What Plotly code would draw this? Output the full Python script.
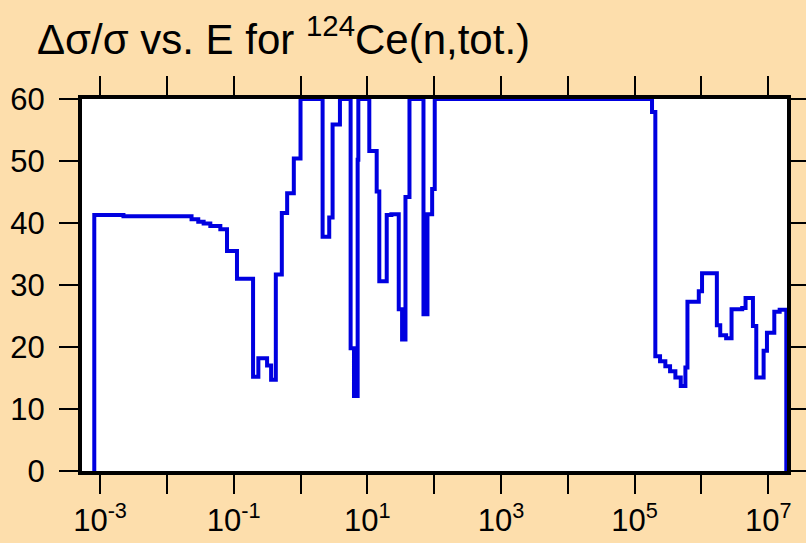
import plotly.graph_objects as go

# Energy bin edges (eV) and relative uncertainty (%)
energy = [8.2e-4, 8.2e-4, 2.24e-3, 0.0234, 0.0295, 0.0355, 0.0447, 0.0631, 0.0794,
          0.112, 0.195, 0.234, 0.316, 0.363, 0.427, 0.525, 0.631, 0.794, 1.0,
          2.14, 2.69, 3.02, 3.89, 5.62, 6.31, 7.16, 7.33, 10.7, 13.8, 15.1, 19.5,
          22.9, 29.5, 33.1, 37.2, 42.7, 69.2, 79.4, 93.3, 102.0,
          1.82e5, 2.04e5, 2.40e5, 2.88e5, 3.39e5, 4.07e5, 4.90e5, 5.75e5, 6.17e5,
          9.12e5, 1.02e6, 1.70e6, 1.91e6, 2.34e6, 2.82e6, 4.07e6, 4.57e6, 5.89e6,
          6.61e6, 8.51e6, 9.55e6, 1.23e7, 1.48e7, 1.86e7]
rel_unc = [0.0, 41.3, 41.1, 40.6, 40.2, 39.9, 39.5, 39.0, 35.5,
           31.0, 15.2, 18.2, 17.0, 14.7, 31.7, 41.6, 44.8, 50.4, 60.0,
           37.8, 40.9, 55.9, 60.0, 19.8, 12.1, 50.2, 60.0, 51.6, 45.1, 30.6, 41.3,
           41.4, 26.1, 21.2, 44.2, 60.0, 25.3, 41.4, 45.5, 60.0,
           57.9, 18.5, 17.7, 16.9, 16.1, 15.1, 13.7, 16.7, 27.3,
           29.0, 31.9, 23.5, 21.9, 21.4, 26.1, 26.3, 27.9, 23.4,
           15.1, 19.4, 22.3, 25.7, 26.0, 0.0]

x_tickvals = [1e-3, 1e-1, 1e1, 1e3, 1e5, 1e7]
x_ticktext = ["10<sup>-3</sup>", "10<sup>-1</sup>", "10<sup>1</sup>",
              "10<sup>3</sup>", "10<sup>5</sup>", "10<sup>7</sup>"]
x_minor_tickvals = [1e-2, 1e0, 1e2, 1e4, 1e6]
y_tickvals = [0, 10, 20, 30, 40, 50, 60]

title_text = "Δσ/σ vs. E for <sup>124</sup>Ce(n,tot.)"

BG = "#FDDEAC"
FONT = "Liberation Sans, Arial, sans-serif"

fig = go.Figure()
fig.add_trace(go.Scatter(
    x=energy, y=rel_unc, mode="lines", line_shape="hv",
    line=dict(color="#0000E0", width=4), hoverinfo="skip", showlegend=False,
))

axis_common = dict(
    showline=True, linecolor="black", linewidth=4, mirror="ticks",
    ticks="outside", ticklen=19, tickwidth=2, tickcolor="black",
    showgrid=False, zeroline=False, automargin=False,
    tickfont=dict(family=FONT, size=31, color="black"),
)

fig.update_xaxes(type="log", range=[-3.27, 7.28], tickvals=x_tickvals,
                 ticktext=x_ticktext,
                 minor=dict(tickvals=x_minor_tickvals, ticks="outside", ticklen=19,
                            tickwidth=2, tickcolor="black", showgrid=False),
                 **axis_common)
fig.update_yaxes(range=[0, 60], tickvals=y_tickvals, ticklabelstandoff=8,
                 **axis_common)

fig.add_annotation(
    text=title_text, xref="paper", yref="paper", x=-0.066, y=1.092,
    xanchor="left", yanchor="bottom", showarrow=False,
    font=dict(family=FONT, size=42, color="black"),
)

fig.update_layout(
    width=806, height=543,
    margin=dict(l=82, r=19, t=99, b=72),
    paper_bgcolor=BG, plot_bgcolor="white",
)

fig.write_html(
    "out.html",
    config={"displayModeBar": False},
    post_script="document.body.style.margin='0';document.body.style.background='" + BG + "';",
)
